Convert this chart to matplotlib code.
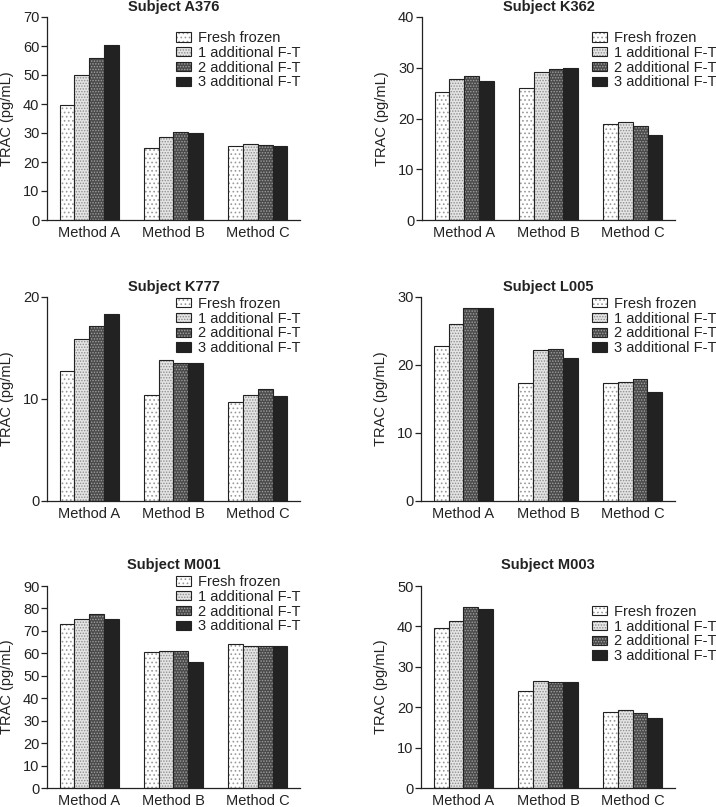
import numpy as np
import matplotlib
matplotlib.use("Agg")
import matplotlib.pyplot as plt
from matplotlib.patches import Patch
from matplotlib.legend_handler import HandlerTuple

plt.rcParams['font.family'] = ['Liberation Sans', 'DejaVu Sans']
plt.rcParams['hatch.linewidth'] = 0.7

# data
methods = ["Method A", "Method B", "Method C"]
series = ["Fresh frozen", "1 additional F-T", "2 additional F-T", "3 additional F-T"]

a376 = [[39.5, 24.8, 25.5], [50.0, 28.7, 26.3], [56.0, 30.5, 25.7], [60.5, 30.0, 25.4]]
k362 = [[25.2, 26.1, 18.9], [27.8, 29.1, 19.4], [28.3, 29.8, 18.5], [27.3, 29.9, 16.7]]
k777 = [[12.7, 10.4, 9.7], [15.9, 13.8, 10.4], [17.2, 13.5, 11.0], [18.3, 13.5, 10.3]]
l005 = [[22.8, 17.4, 17.3], [26.0, 22.2, 17.5], [28.4, 22.4, 17.9], [28.4, 21.0, 16.1]]
m001 = [[72.9, 60.6, 64.0], [75.4, 61.0, 63.3], [77.5, 61.0, 63.3], [75.4, 56.0, 63.3]]
m003 = [[39.5, 23.9, 18.9], [41.3, 26.5, 19.3], [44.7, 26.3, 18.6], [44.3, 26.2, 17.3]]

subjects = ["Subject A376", "Subject K362", "Subject K777", "Subject L005", "Subject M001", "Subject M003"]
panel_data = [a376, k362, k777, l005, m001, m003]
ymax = [70, 40, 20, 30, 90, 50]

# styles: face colour, hatch, hatch colour
styles = [("white", "....", "#9a9a9a"),
          ("#e4e4e4", "......", "#8e8e8e"),
          ("#4a4a4a", "......", "#a0a0a0"),
          ("#222222", "", "#222222")]

W, H = 716, 807
fig = plt.figure(figsize=(W / 100, H / 100), dpi=100)

# axes boxes in pixels: left, top, right, bottom
boxes = [(47, 17, 300, 220), (422, 17, 675, 220),
         (47, 297, 300, 501), (421, 297, 675, 501),
         (47, 586, 300, 788), (421, 586, 675, 788)]
legend_pos = [(0.51, 0.93), (0.672, 0.93), (0.51, 1.0), (0.673, 1.0), (0.51, 1.054), (0.673, 0.906)]
title_y = [1.049, 1.049, 1.049, 1.05, 1.103, 1.103]

fs = 10.5
ink = "#222222"
x = np.arange(len(methods))
bw = 0.175

for k in range(6):
    l, t, r, b = boxes[k]
    ax = fig.add_axes([l / W, (H - b) / H, (r - l) / W, (b - t) / H])
    vals = panel_data[k]
    handles = []
    for i, (fc, hat, hc) in enumerate(styles):
        pos = x + (i - 1.5) * bw
        ax.bar(pos, vals[i], bw, color=fc, hatch=hat, edgecolor=hc, linewidth=0)
        ax.bar(pos, vals[i], bw, fill=False, edgecolor=ink, linewidth=0.8)
        handles.append((Patch(facecolor=fc, hatch=hat, edgecolor=hc, linewidth=0),
                        Patch(fill=False, edgecolor=ink, linewidth=0.8)))
    ax.set_xlim(-0.5, 2.5)
    ax.set_ylim(0, ymax[k])
    ax.set_yticks(np.arange(0, ymax[k] + 1, 10))
    ax.set_xticks(x)
    ax.set_xticklabels(methods)
    ax.spines['top'].set_visible(False)
    ax.spines['right'].set_visible(False)
    for s in ('left', 'bottom'):
        ax.spines[s].set_linewidth(0.9)
        ax.spines[s].set_color(ink)
    ax.tick_params(axis='y', direction='out', length=4, width=0.9, pad=1.5, labelsize=fs,
                   colors=ink)
    ax.tick_params(axis='x', length=0, pad=4, labelsize=fs, colors=ink)
    ax.set_ylabel("TRAC (pg/mL)", fontsize=fs, color=ink)
    ax.yaxis.set_label_coords(-0.13, 0.5)
    ax.text(0.5, title_y[k], subjects[k], transform=ax.transAxes, ha='center', va='center',
            fontsize=fs, fontweight='bold', color=ink)
    ax.legend(handles, series, handler_map={tuple: HandlerTuple(ndivide=1, pad=0)},
              loc='upper left', bbox_to_anchor=legend_pos[k], frameon=False,
              fontsize=fs, borderpad=0, borderaxespad=0, labelspacing=0.05,
              handlelength=1.0, handleheight=0.6, handletextpad=0.5, labelcolor=ink)

fig.savefig("out.png", dpi=100)
